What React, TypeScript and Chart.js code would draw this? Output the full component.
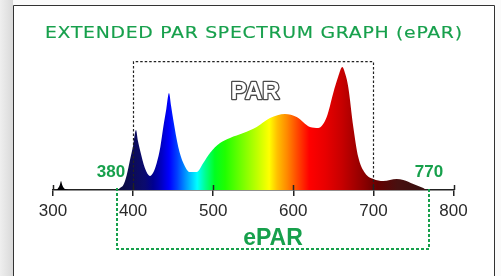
import React, { useEffect, useRef } from "react";
import { Chart, registerables } from "chart.js";

Chart.register(...registerables);

// Spectrum (relative intensity, 660 nm peak = 100)
const wavelengths = [
  300, 304, 306.5, 308.5, 310, 311.5, 313.5, 317, 322, 379.5, 384, 387.8, 392, 396.1, 400, 403.6,
  406, 408.6, 414.8, 421.1, 425, 429.5, 434, 437.7, 441.5, 444.8, 447.5, 450.2, 456.4, 462.7, 471,
  479.4, 487.6, 496, 508.5, 521, 537.6, 554.3, 570.9, 589.6, 604.2, 620.8, 631.2, 641.7, 649.9, 656,
  661.2, 665, 668.6, 674.9, 681.1, 689.5, 699.9, 712.3, 729.1, 737.3, 749.8, 762.3, 766.5, 800,
];
const intensity = [
  0, 0, 1.6, 4, 7.3, 4, 1.6, 0.4, 0, 0, 1.8, 4.1, 12, 24.4, 36, 48.8,
  40, 32.5, 17.6, 11.4, 14, 22, 35, 51.2, 66, 78.9, 68, 56.9, 35, 22, 14.6,
  14.6, 22, 30.1, 38.2, 42.3, 46.3, 51.2, 58.5, 61.8, 59.3, 51.2, 50.4, 59.3, 78.9, 92,
  100, 94, 83.7, 51.2, 26.8, 13.8, 8.9, 7.3, 8.9, 8.1, 4.9, 1.6, 0, 0,
];

// Colour of light by wavelength
const colorWl = [
  300, 378, 385, 400, 415, 425, 435, 445, 455, 465, 480, 490, 502, 515, 535, 555, 570, 580, 592,
  605, 620, 640, 660, 675, 690, 705, 730, 760, 800,
];
const colorHex = [
  "#000000", "#05051a", "#0a0a40", "#0c0c58", "#0a0a70", "#000090", "#0000c0", "#0000ff",
  "#0040ff", "#0090ff", "#00ffff", "#00ff90", "#00ff20", "#20ff00", "#70ff00", "#c0ff00",
  "#ffff00", "#ffc000", "#ff8a00", "#ff4800", "#ff0000", "#e80000", "#c80000", "#a80000",
  "#880000", "#640000", "#481010", "#3a1010", "#301010",
];

const tickValues = [300, 400, 500, 600, 700, 800];
const xRange = [300, 800];
const yMax = 104.3;
const parRange = [400, 700];
const eparRange = [380, 770];
const titleText = "EXTENDED PAR SPECTRUM GRAPH (ePAR)";
const parText = "PAR";
const eparText = "ePAR";
const GREEN = "#17a04c";

export default function App() {
  const ref = useRef<HTMLCanvasElement>(null);

  useEffect(() => {
    const canvas = ref.current!;

    const framePlugin = {
      id: "frame",
      beforeDraw(chart: any) {
        const c = chart.ctx as CanvasRenderingContext2D;
        const W = chart.width;
        const H = chart.height;
        c.save();
        c.fillStyle = "#fbfbfb";
        c.fillRect(0, 0, W, H);
        const g = c.createLinearGradient(0, 0, 13, 0);
        g.addColorStop(0, "#efefef");
        g.addColorStop(1, "#d9d9d9");
        c.fillStyle = g;
        c.fillRect(0, 0, 13, H);
        c.fillStyle = "#ffffff";
        c.fillRect(13, 5, 481, H - 5);
        c.strokeStyle = "#333333";
        c.lineWidth = 1;
        c.beginPath();
        c.moveTo(13.5, H);
        c.lineTo(13.5, 5.5);
        c.lineTo(494.5, 5.5);
        c.lineTo(494.5, H);
        c.stroke();
        c.restore();
      },
    };

    const overlayPlugin = {
      id: "overlay",
      afterDraw(chart: any) {
        const c = chart.ctx as CanvasRenderingContext2D;
        const xs = chart.scales.x;
        const area = chart.chartArea;
        const bottom = area.bottom;
        const top = area.top;
        c.save();

        // tick marks above the axis line
        c.strokeStyle = "#222";
        c.lineWidth = 1.5;
        xs.ticks.forEach((t: any) => {
          const px = Math.round(xs.getPixelForValue(t.value)) + 0.5;
          c.beginPath();
          c.moveTo(px, bottom - 5);
          c.lineTo(px, bottom);
          c.stroke();
        });

        // PAR dashed box
        const p0 = Math.round(xs.getPixelForValue(parRange[0])) + 0.5;
        const p1 = Math.round(xs.getPixelForValue(parRange[1])) + 0.5;
        c.strokeStyle = "#222";
        c.lineWidth = 1.2;
        c.setLineDash([2.5, 2]);
        c.beginPath();
        c.moveTo(p0, bottom);
        c.lineTo(p0, top);
        c.lineTo(p1, top);
        c.lineTo(p1, bottom);
        c.stroke();

        // PAR outlined label
        c.setLineDash([]);
        c.font = "bold 24px 'Liberation Sans', Arial, sans-serif";
        c.textAlign = "center";
        c.textBaseline = "alphabetic";
        const parX = xs.getPixelForValue((parRange[0] + parRange[1]) / 2) + 2;
        c.lineJoin = "round";
        c.strokeStyle = "#4a4a4a";
        c.lineWidth = 2.6;
        c.strokeText(parText, parX, top + 37);
        c.fillStyle = "#ffffff";
        c.fillText(parText, parX, top + 37);

        // ePAR dashed green box
        const e0 = Math.round(xs.getPixelForValue(eparRange[0]));
        const e1 = Math.round(xs.getPixelForValue(eparRange[1]));
        const boxBottom = 249;
        c.strokeStyle = GREEN;
        c.lineWidth = 2;
        c.setLineDash([3, 2]);
        c.beginPath();
        c.moveTo(e0, bottom - 2);
        c.lineTo(e0, boxBottom);
        c.lineTo(e1, boxBottom);
        c.lineTo(e1, bottom - 2);
        c.stroke();
        c.setLineDash([]);

        // 380 / 770 labels
        c.fillStyle = GREEN;
        c.font = "bold 17px 'Liberation Sans', Arial, sans-serif";
        c.textAlign = "center";
        c.fillText(String(eparRange[0]), e0 - 6, bottom - 13.5);
        c.fillText(String(eparRange[1]), e1, bottom - 13.5);

        // ePAR label
        c.font = "bold 23px 'Liberation Sans', Arial, sans-serif";
        c.fillText(eparText, (e0 + e1) / 2, 245);

        // title: wide geometric look -> slight letter spacing + horizontal stretch
        c.font = "16.5px 'DejaVu Sans', sans-serif";
        (c as any).letterSpacing = "0.6px";
        const w = c.measureText(titleText).width - 0.6;
        const sx = 417 / w;
        c.save();
        c.translate(253.5, 38.3);
        c.scale(sx, 1);
        c.textAlign = "left";
        c.fillStyle = GREEN;
        c.strokeStyle = GREEN;
        c.lineWidth = 0.15;
        c.fillText(titleText, -w / 2, 0);
        c.strokeText(titleText, -w / 2, 0);
        c.restore();
        (c as any).letterSpacing = "0px";

        c.restore();
      },
    };

    const chart = new Chart(canvas, {
      type: "line",
      data: {
        datasets: [
          {
            data: wavelengths.map((x, i) => ({ x, y: intensity[i] })),
            fill: "origin",
            borderWidth: 0,
            pointRadius: 0,
            cubicInterpolationMode: "monotone",
            backgroundColor: (ctx: any) => {
              const ch = ctx.chart;
              const area = ch.chartArea;
              if (!area) return "transparent";
              const xs = ch.scales.x;
              const x0 = xs.getPixelForValue(xRange[0]);
              const x1 = xs.getPixelForValue(xRange[1]);
              const g = ch.ctx.createLinearGradient(x0, 0, x1, 0);
              colorWl.forEach((wl, i) => {
                g.addColorStop((wl - xRange[0]) / (xRange[1] - xRange[0]), colorHex[i]);
              });
              return g;
            },
          } as any,
        ],
      },
      options: {
        animation: false,
        responsive: false,
        devicePixelRatio: 1,
        layout: { padding: { left: 53, right: 501 - 453.5, top: 61.7, bottom: 49.6 } },
        plugins: { legend: { display: false }, tooltip: { enabled: false }, title: { display: false } },
        scales: {
          x: {
            type: "linear",
            min: xRange[0],
            max: xRange[1],
            z: 1,
            afterBuildTicks: (s: any) => {
              s.ticks = tickValues.map((v) => ({ value: v }));
            },
            ticks: {
              font: { size: 17, family: "'Liberation Sans', Arial, sans-serif" },
              color: "#2a2a2a",
              padding: 5,
              maxRotation: 0,
              autoSkip: false,
            },
            grid: { drawOnChartArea: false, tickLength: 6, color: "#222", lineWidth: 1.5 },
            border: { color: "#222", width: 1.5 },
          },
          y: { display: false, min: 0, max: yMax },
        },
      } as any,
      plugins: [framePlugin, overlayPlugin],
    });
    return () => chart.destroy();
  }, []);

  return (
    <div style={{ position: "absolute", left: 0, top: 0, width: 501, height: 276 }}>
      <canvas ref={ref} width={501} height={276} style={{ display: "block" }} />
    </div>
  );
}
